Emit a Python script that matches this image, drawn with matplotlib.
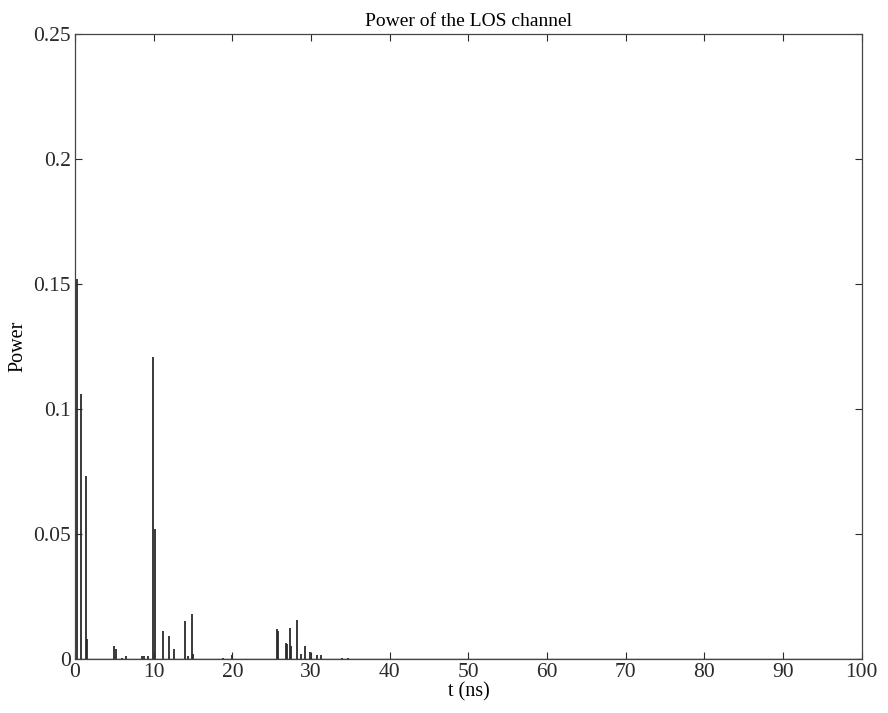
import matplotlib
matplotlib.use("Agg")
import matplotlib.pyplot as plt
from matplotlib.ticker import FuncFormatter

# delay (ns) and power of each multipath component
delays = [0.0, 0.25, 0.76, 1.33, 1.46,
          4.96, 5.2, 6.0, 6.5, 8.5, 8.8, 9.3,
          9.9, 10.17, 11.2, 11.95, 12.6, 14.0, 14.4, 14.9, 15.05,
          18.8, 19.9,
          25.7, 25.85, 26.8, 27.0, 27.3, 27.5, 28.2, 28.7, 29.2, 29.9,
          30.7, 31.3, 33.9, 34.7]
powers = [0.022, 0.152, 0.106, 0.073, 0.008,
          0.005, 0.004, 0.0005, 0.001, 0.001, 0.001, 0.001,
          0.121, 0.052, 0.011, 0.009, 0.004, 0.015, 0.001, 0.018, 0.002,
          0.0003, 0.0015,
          0.012, 0.011, 0.0063, 0.006, 0.0123, 0.005, 0.0156, 0.002, 0.005, 0.0027,
          0.0015, 0.0015, 0.0005, 0.0003]

x_ticks = list(range(0, 101, 10))
y_ticks = [0, 0.05, 0.1, 0.15, 0.2, 0.25]

plt.rcParams['font.family'] = ['Liberation Serif', 'DejaVu Serif']

fig = plt.figure(figsize=(8.88, 7.13), dpi=100)
ax = fig.add_axes([0.0845, 0.076, 0.886, 0.876])

line_col = '#2a2a2a'
ax.vlines(delays, 0, powers, color=line_col, linewidth=1.3)
ax.plot([0, 100], [0, 0], color=line_col, linewidth=1.0)

ax.set_xlim(0, 100)
ax.set_ylim(0, 0.25)
ax.set_xticks(x_ticks)
ax.set_yticks(y_ticks)
ax.yaxis.set_major_formatter(FuncFormatter(lambda v, p: f"{v:g}"))
ax.tick_params(direction='in', length=5, width=0.8, top=True, right=True,
               labelsize=15.5, colors=line_col, pad=3)
for s in ax.spines.values():
    s.set_color('#444444')
    s.set_linewidth(0.9)

ax.set_title("Power of the LOS channel", fontsize=14, pad=6)
ax.set_xlabel("t (ns)", fontsize=14.5, labelpad=0)
ax.set_ylabel("Power", fontsize=14.5, labelpad=4)

fig.savefig("out.png", dpi=100)
